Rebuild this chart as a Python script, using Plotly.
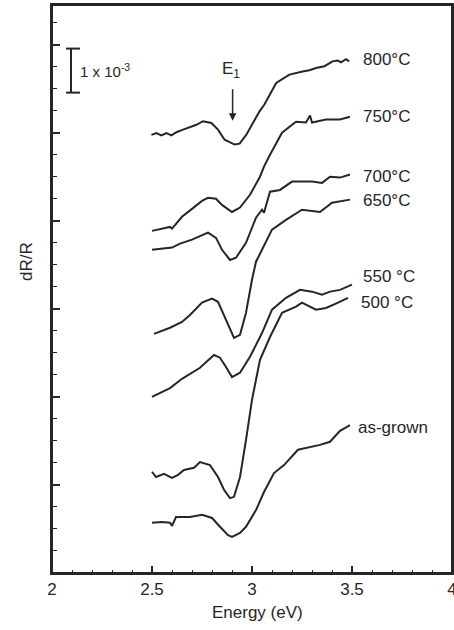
import plotly.graph_objects as go

# ---- data (dR/R in units of 1e-3, offset curves; energy in eV) ----
x_800 = [2.497, 2.522, 2.547, 2.572, 2.597, 2.622, 2.655, 2.688, 2.722, 2.755, 2.797, 2.830, 2.863, 2.913, 2.938,
         2.971, 3.004, 3.037, 3.062, 3.104, 3.121, 3.187, 3.220, 3.253, 3.287, 3.320, 3.362, 3.403, 3.428, 3.445, 3.470, 3.486]
y_800 = [9.95, 9.99, 9.94, 9.99, 9.94, 10.01, 10.07, 10.13, 10.18, 10.26, 10.22, 10.07, 9.84, 9.73, 9.75,
         9.95, 10.22, 10.48, 10.64, 10.98, 11.13, 11.32, 11.36, 11.39, 11.42, 11.47, 11.51, 11.62, 11.64, 11.60, 11.67, 11.62]

x_750 = [2.50, 2.55, 2.59, 2.60, 2.65, 2.70, 2.75, 2.78, 2.82, 2.85, 2.90, 2.94, 2.99, 3.04, 3.06, 3.09, 3.15,
         3.22, 3.27, 3.29, 3.30, 3.37, 3.44, 3.49]
y_750 = [7.77, 7.82, 7.86, 7.82, 8.09, 8.27, 8.45, 8.52, 8.50, 8.36, 8.20, 8.30, 8.59, 9.00, 9.23, 9.50, 10.00,
         10.25, 10.23, 10.39, 10.23, 10.30, 10.30, 10.36]

x_700 = [2.50, 2.54, 2.60, 2.64, 2.70, 2.78, 2.82, 2.85, 2.89, 2.92, 2.97, 3.02, 3.05, 3.06, 3.09, 3.14, 3.20,
         3.30, 3.35, 3.39, 3.44, 3.49]
y_700 = [7.34, 7.36, 7.39, 7.48, 7.57, 7.73, 7.61, 7.34, 7.11, 7.16, 7.50, 8.07, 8.25, 8.18, 8.66, 8.70, 8.89,
         8.89, 8.86, 9.00, 8.98, 9.05]

x_650 = [2.51, 2.59, 2.65, 2.69, 2.75, 2.80, 2.83, 2.87, 2.91, 2.94, 2.97, 3.00, 3.02, 3.05, 3.10, 3.17, 3.25,
         3.34, 3.40, 3.49]
y_650 = [5.43, 5.57, 5.70, 5.86, 6.14, 6.23, 6.16, 5.75, 5.34, 5.41, 5.91, 6.66, 7.07, 7.34, 7.80, 8.02, 8.25,
         8.20, 8.41, 8.48]

x_550 = [2.50, 2.59, 2.65, 2.74, 2.81, 2.84, 2.87, 2.90, 2.94, 2.99, 3.05, 3.10, 3.17, 3.24, 3.30, 3.35, 3.39,
         3.44, 3.50]
y_550 = [4.00, 4.20, 4.41, 4.66, 4.95, 4.89, 4.68, 4.45, 4.55, 4.91, 5.45, 5.98, 6.25, 6.43, 6.39, 6.32, 6.39,
         6.43, 6.55]

x_500 = [2.50, 2.52, 2.56, 2.60, 2.63, 2.66, 2.71, 2.74, 2.79, 2.83, 2.86, 2.89, 2.91, 2.94, 2.97, 3.00, 3.02,
         3.04, 3.09, 3.15, 3.22, 3.25, 3.32, 3.37, 3.43, 3.48]
y_500 = [2.30, 2.18, 2.25, 2.16, 2.23, 2.34, 2.39, 2.52, 2.45, 2.18, 1.89, 1.70, 1.73, 2.18, 3.02, 3.93, 4.39,
         4.84, 5.36, 5.91, 6.05, 6.14, 5.98, 6.02, 6.14, 6.25]

x_asg = [2.50, 2.55, 2.59, 2.60, 2.62, 2.69, 2.75, 2.80, 2.84, 2.88, 2.90, 2.94, 2.97, 3.02, 3.06, 3.11, 3.16,
         3.23, 3.34, 3.39, 3.44, 3.49]
y_asg = [1.14, 1.16, 1.14, 1.07, 1.27, 1.27, 1.32, 1.25, 1.05, 0.86, 0.82, 0.91, 1.05, 1.43, 1.84, 2.27, 2.45,
         2.80, 2.91, 2.98, 3.23, 3.36]

series = [
    ("800°C", x_800, y_800),
    ("750°C", x_750, y_750),
    ("700°C", x_700, y_700),
    ("650°C", x_650, y_650),
    ("550 °C", x_550, y_550),
    ("500 °C", x_500, y_500),
    ("as-grown", x_asg, y_asg),
]
label_x = [3.546, 3.546, 3.546, 3.546, 3.546, 3.536, 3.521]
label_y = [11.66, 10.36, 9.00, 8.45, 6.73, 6.14, 3.30]

x_ticks = [2, 2.5, 3, 3.5, 4]
x_ticklabels = ["2", "2.5", "3", "3.5", "4"]

E1 = 2.903          # energy marked by the arrow
scale_x = 2.095     # scale bar position
scale_y0, scale_len = 10.91, 1.0   # 1 x 10^-3

INK = "#262626"
FONT = "Liberation Sans, Arial, sans-serif"

fig = go.Figure()
for name, xs, ys in series:
    fig.add_trace(go.Scatter(x=xs, y=ys, mode="lines", name=name,
                             line=dict(color=INK, width=2), showlegend=False))

ann = []
for (name, xs, ys), lx, ly in zip(series, label_x, label_y):
    ann.append(dict(x=lx, y=ly, text=name, showarrow=False, xanchor="left", yanchor="middle",
                    font=dict(size=17, color=INK, family=FONT)))

# E1 arrow and label
ann.append(dict(x=E1, y=10.27, ax=0, ay=-34, text=" ", showarrow=True, arrowhead=2,
                arrowsize=1, arrowwidth=1.5, arrowcolor=INK, font=dict(size=2)))
ann.append(dict(x=E1 - 0.01, y=11.43, text="E<sub>1</sub>", showarrow=False, yanchor="middle",
                font=dict(size=17, color=INK, family=FONT)))
# scale bar text
ann.append(dict(x=scale_x + 0.035, y=scale_y0 + scale_len / 2, text="1 x 10<sup>-3</sup>", showarrow=False,
                xanchor="left", yanchor="middle", font=dict(size=15, color=INK, family=FONT)))
# axis titles
ann.append(dict(xref="paper", yref="paper", x=-0.062, y=0.548, text="dR/R", textangle=-90,
                xanchor="center", yanchor="middle",
                showarrow=False, font=dict(size=17, color=INK, family=FONT)))
ann.append(dict(xref="paper", yref="paper", x=0.514, y=-0.069, text="Energy (eV)",
                xanchor="center", yanchor="middle",
                showarrow=False, font=dict(size=17, color=INK, family=FONT)))

shapes = [
    dict(type="line", x0=scale_x, x1=scale_x, y0=scale_y0, y1=scale_y0 + scale_len,
         line=dict(color=INK, width=2)),
    dict(type="line", x0=scale_x - 0.025, x1=scale_x + 0.045, y0=scale_y0, y1=scale_y0,
         line=dict(color=INK, width=2)),
    dict(type="line", x0=scale_x - 0.025, x1=scale_x + 0.045, y0=scale_y0 + scale_len, y1=scale_y0 + scale_len,
         line=dict(color=INK, width=2)),
    # plot frame
    dict(type="rect", xref="paper", yref="paper", x0=0, x1=1, y0=0, y1=1,
         line=dict(color=INK, width=2), layer="above"),
]

fig.update_layout(
    width=454, height=630,
    margin=dict(l=52, r=2, t=5, b=57, autoexpand=False),
    paper_bgcolor="white", plot_bgcolor="white",
    annotations=ann, shapes=shapes,
    font=dict(family=FONT, color=INK),
)
fig.update_xaxes(range=[2, 4], tickvals=x_ticks, ticktext=x_ticklabels, ticks="inside", ticklen=7,
                 tickwidth=1.5, tickcolor=INK, showline=True, linewidth=2, linecolor=INK, mirror=True,
                 showgrid=False, zeroline=False, automargin=False, ticklabeloverflow="allow",
                 tickfont=dict(size=17, color=INK, family=FONT),
                 minor=dict(dtick=0.1, tick0=2, ticks="inside", ticklen=3, tickcolor=INK, tickwidth=1))
fig.update_yaxes(range=[0, 12.9], tick0=0, dtick=2, ticks="inside", ticklen=8, tickwidth=1.5, tickcolor=INK,
                 showticklabels=False, showline=True, linewidth=2, linecolor=INK, mirror=True,
                 showgrid=False, zeroline=False, automargin=False,
                 minor=dict(dtick=0.5, tick0=0, ticks="inside", ticklen=5, tickcolor=INK, tickwidth=1))

fig.write_html("out.html", config={"responsive": False, "displayModeBar": False},
               post_script="document.body.style.margin='0';document.body.style.overflow='hidden';")
